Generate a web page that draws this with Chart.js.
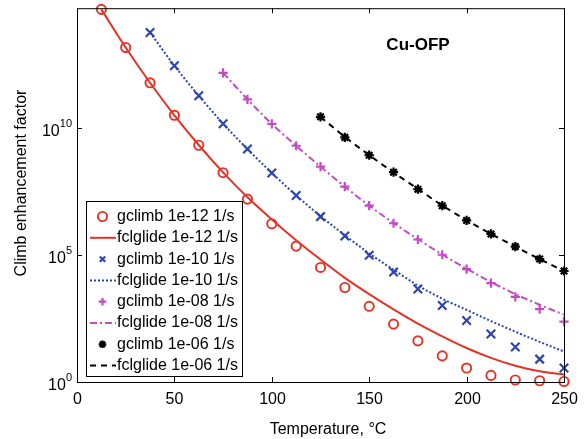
<!DOCTYPE html>
<html>
<head>
<meta charset="utf-8">
<script src="https://cdn.jsdelivr.net/npm/chart.js@4.4.1/dist/chart.umd.min.js"></script>
<style>
  html, body { margin: 0; padding: 0; background: #fff; }
  #wrap { width: 584px; height: 439px; }
</style>
</head>
<body>
<div id="wrap"><canvas id="myChart" width="584" height="439"></canvas></div>
<script>
// temperatures (C) of the computed points
const temps = [12.5, 25, 37.5, 50, 62.5, 75, 87.5, 100, 112.5, 125, 137.5, 150, 162.5, 175, 187.5, 200, 212.5, 225, 237.5, 250];
const temps_10 = temps.slice(2);   // 1e-10 series start at 37.5
const temps_08 = temps.slice(5);   // 1e-08 series start at 75
const temps_06 = temps.slice(9);   // 1e-06 series start at 125

// log10 of climb enhancement factor
const gclimb_12 = [14.67, 13.17, 11.78, 10.50, 9.32, 8.24, 7.20, 6.23, 5.35, 4.51, 3.72, 2.98, 2.28, 1.62, 1.03, 0.55, 0.26, 0.08, 0.05, 0.02];
const fclglide_12 = [14.67, 13.17, 11.78, 10.50, 9.33, 8.25, 7.27, 6.40, 5.58, 4.82, 4.10, 3.46, 2.86, 2.30, 1.80, 1.34, 0.95, 0.64, 0.42, 0.29];
const gclimb_10 = [13.76, 12.45, 11.27, 10.17, 9.17, 8.23, 7.34, 6.51, 5.75, 4.99, 4.33, 3.66, 3.01, 2.42, 1.89, 1.38, 0.90, 0.55];
const fclglide_10 = [13.76, 12.45, 11.27, 10.17, 9.17, 8.23, 7.35, 6.53, 5.78, 5.06, 4.42, 3.80, 3.28, 2.84, 2.40, 1.98, 1.58, 1.20];
const gclimb_08 = [12.17, 11.13, 10.16, 9.30, 8.48, 7.69, 6.94, 6.25, 5.61, 5.01, 4.44, 3.89, 3.35, 2.87, 2.38];
const fclglide_08 = [12.17, 11.13, 10.16, 9.30, 8.48, 7.69, 6.94, 6.26, 5.62, 5.02, 4.46, 3.94, 3.46, 3.04, 2.65];
const gclimb_06 = [10.44, 9.63, 8.93, 8.26, 7.59, 6.94, 6.36, 5.83, 5.33, 4.84, 4.37];
const fclglide_06 = [10.44, 9.65, 8.93, 8.25, 7.60, 6.95, 6.37, 5.83, 5.33, 4.84, 4.37];

const legend_labels = ['gclimb 1e-12 1/s', 'fclglide 1e-12 1/s', 'gclimb 1e-10 1/s', 'fclglide 1e-10 1/s',
                       'gclimb 1e-08 1/s', 'fclglide 1e-08 1/s', 'gclimb 1e-06 1/s', 'fclglide 1e-06 1/s'];
const x_ticks = [0, 50, 100, 150, 200, 250];
const y_tick_exps = [0, 5, 10];
const y_max = 5.2e14;

const FONT = '"Liberation Sans", Arial, sans-serif';
const RED = 'rgb(230,50,38)', BLUE = 'rgb(46,70,172)', MAG = 'rgb(194,76,194)', BLK = '#000';

function pts(ts, logs){
    return logs.map((v, i) => ({x: ts[i], y: Math.pow(10, v)}));
}

function markerSet(label, ts, logs, color, style, r, bw){
    return {
        label: label, data: pts(ts, logs), showLine: false, clip: false,
        pointStyle: style, pointRadius: r, pointBorderWidth: bw,
        pointBorderColor: color, pointBackgroundColor: 'rgba(0,0,0,0)', borderColor: color
    };
}
function lineSet(label, ts, logs, color, dash){
    return {
        label: label, data: pts(ts, logs), pointRadius: 0, borderColor: color,
        borderWidth: 2, borderDash: dash, cubicInterpolationMode: 'monotone', fill: false
    };
}

const datasets = [
    markerSet(legend_labels[0], temps, gclimb_12, RED, 'circle', 4.6, 1.9),
    lineSet(legend_labels[1], temps, fclglide_12, RED, []),
    markerSet(legend_labels[2], temps_10, gclimb_10, BLUE, 'crossRot', 6, 2.2),
    lineSet(legend_labels[3], temps_10, fclglide_10, BLUE, [2, 2]),
    markerSet(legend_labels[4], temps_08, gclimb_08, MAG, 'cross', 4.6, 2.2),
    lineSet(legend_labels[5], temps_08, fclglide_08, MAG, [7, 3, 2, 3]),
    markerSet(legend_labels[6], temps_06, gclimb_06, BLK, 'star', 4.6, 2.2),
    lineSet(legend_labels[7], temps_06, fclglide_06, BLK, [6, 5])
];

// box, inward ticks, labels, title and legend (matlab look)
const axesFrame = {
    id: 'axesFrame',
    afterDraw(chart){
        const ctx = chart.ctx, a = chart.chartArea;
        const xs = chart.scales.x, ys = chart.scales.y;
        ctx.save();
        ctx.strokeStyle = '#000';
        ctx.lineWidth = 1;
        ctx.setLineDash([]);
        ctx.strokeRect(a.left + 0.5, a.top + 0.5, a.right - a.left, a.bottom - a.top);

        ctx.fillStyle = '#000';
        ctx.font = '16px ' + FONT;
        ctx.textAlign = 'center';
        ctx.textBaseline = 'middle';
        x_ticks.forEach(v => {
            const px = Math.round(xs.getPixelForValue(v)) + 0.5;
            ctx.beginPath();
            ctx.moveTo(px, a.bottom); ctx.lineTo(px, a.bottom - 5);
            ctx.moveTo(px, a.top); ctx.lineTo(px, a.top + 5);
            ctx.stroke();
            ctx.fillText(String(v), px, 400);
        });

        y_tick_exps.forEach(e => {
            const py = Math.round(ys.getPixelForValue(Math.pow(10, e))) + 0.5;
            ctx.beginPath();
            ctx.moveTo(a.left, py); ctx.lineTo(a.left + 5, py);
            ctx.moveTo(a.right, py); ctx.lineTo(a.right - 5, py);
            ctx.stroke();
            ctx.textAlign = 'right';
            ctx.font = '11px ' + FONT;
            const ew = ctx.measureText(String(e)).width;
            ctx.fillText(String(e), 72, py - 5);
            ctx.font = '16px ' + FONT;
            ctx.fillText('10', 72 - ew, py + 3);
        });

        // axis titles
        ctx.textAlign = 'center';
        ctx.font = '16px ' + FONT;
        ctx.fillText('Temperature, \u00B0C', 328, 430);
        ctx.save();
        ctx.translate(22, 183);
        ctx.rotate(-Math.PI / 2);
        ctx.fillText('Climb enhancement factor', 0, 0);
        ctx.restore();

        ctx.font = 'bold 17px ' + FONT;
        ctx.fillText('Cu-OFP', 418, 45);

        // legend
        ctx.fillStyle = '#fff';
        ctx.fillRect(86.5, 201.5, 156, 175);
        ctx.strokeStyle = '#000';
        ctx.strokeRect(86.5, 201.5, 156, 175);
        ctx.font = '16px ' + FONT;
        ctx.textAlign = 'left';
        chart.data.datasets.forEach((ds, i) => {
            const y = 216.5 + i * 21.3;
            if (ds.showLine === false) {
                ctx.strokeStyle = ds.pointBorderColor;
                ctx.fillStyle = 'rgba(0,0,0,0)';
                ctx.lineWidth = ds.pointBorderWidth;
                ctx.setLineDash([]);
                const r = ds.pointStyle === 'circle' ? ds.pointRadius : 3.8;
                Chart.helpers.drawPoint(ctx, {pointStyle: ds.pointStyle, radius: r, borderWidth: ds.pointBorderWidth, rotation: 0}, 102.5, y);
            } else {
                ctx.strokeStyle = ds.borderColor;
                ctx.lineWidth = 2;
                ctx.setLineDash(ds.borderDash);
                ctx.beginPath();
                ctx.moveTo(90, y); ctx.lineTo(116, y);
                ctx.stroke();
                ctx.setLineDash([]);
            }
            ctx.fillStyle = '#000';
            ctx.fillText(ds.label, 117, y);
        });
        ctx.restore();
    }
};

const ctx = document.getElementById('myChart');
const myChart = new Chart(ctx, {
    type: 'line',
    data: { datasets: datasets },
    options: {
        responsive: false,
        animation: false,
        layout: { padding: { left: 77, right: 20, top: 8, bottom: 57 } },
        plugins: { legend: { display: false }, tooltip: { enabled: false } },
        scales: {
            x: { type: 'linear', min: 0, max: 250, display: false },
            y: { type: 'logarithmic', min: 1, max: y_max, display: false }
        }
    },
    plugins: [axesFrame]
});
</script>
</body>
</html>
